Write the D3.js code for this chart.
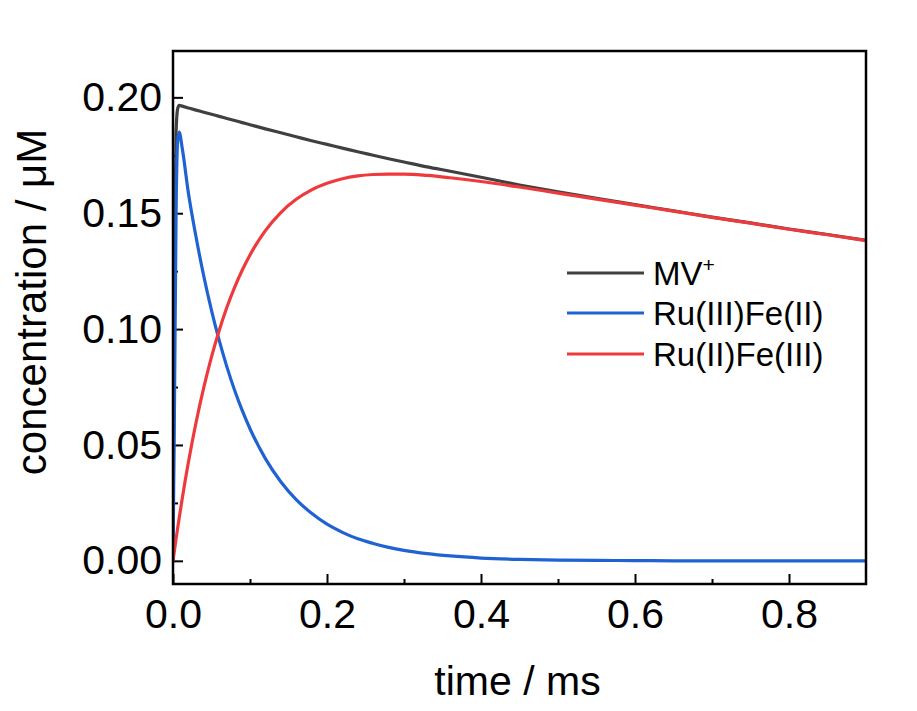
<!DOCTYPE html>
<html>
<head>
<meta charset="utf-8">
<script src="https://cdn.jsdelivr.net/npm/d3@7/dist/d3.min.js"></script>
<style>
  html, body { margin: 0; padding: 0; background: #ffffff; }
  svg { display: block; font-family: Arial, "Liberation Sans", sans-serif; }
</style>
</head>
<body>
<svg id="chart" width="917" height="711"></svg>
<script>
// ---- data ----
const time = [0, 0.002, 0.004, 0.006, 0.008, 0.012, 0.02, 0.03, 0.04, 0.05, 0.06, 0.07, 0.08, 0.09, 0.10,
  0.12, 0.14, 0.16, 0.18, 0.20, 0.22, 0.24, 0.26, 0.28, 0.30, 0.33, 0.36, 0.40, 0.45, 0.50, 0.55,
  0.60, 0.65, 0.70, 0.75, 0.80, 0.85, 0.90];
const mvPlus = [0, 0.130, 0.185, 0.195, 0.1965, 0.1962, 0.1954, 0.1945, 0.1936, 0.1927, 0.1918, 0.1909, 0.1900, 0.1891, 0.1882,
  0.1864, 0.1847, 0.1830, 0.1813, 0.1797, 0.1781, 0.1765, 0.1750, 0.1735, 0.1721, 0.1700, 0.1681, 0.1655, 0.1622, 0.1592, 0.1564,
  0.1537, 0.1510, 0.1483, 0.1458, 0.1432, 0.1408, 0.1383];
const ruIIIfeII = [0, 0.070, 0.150, 0.181, 0.185, 0.178, 0.1587, 0.1396, 0.1228, 0.1081, 0.0951, 0.0837, 0.0736, 0.0648, 0.0570,
  0.0441, 0.0341, 0.0264, 0.0205, 0.0158, 0.0123, 0.0095, 0.0075, 0.0058, 0.0045, 0.0031, 0.0021, 0.0012, 0.0006, 0.0003, 0.0002,
  0.0001, 0, 0, 0, 0, 0, 0];
const ruIIfeIII = [0, 0.0048, 0.0095, 0.0140, 0.0184, 0.0269, 0.0425, 0.0598, 0.0748, 0.0880, 0.0994, 0.1094, 0.1180, 0.1255, 0.1320,
  0.1425, 0.1503, 0.1560, 0.1601, 0.1629, 0.1649, 0.1661, 0.1667, 0.1669, 0.1669, 0.1663, 0.1653, 0.1637, 0.1613, 0.1587, 0.1561,
  0.1535, 0.1509, 0.1482, 0.1457, 0.1431, 0.1407, 0.1382];

const seriesNames = ["MV", "Ru(III)Fe(II)", "Ru(II)Fe(III)"];
const seriesColors = ["#404040", "#1f62d2", "#ee3a3d"];
const seriesValues = [mvPlus, ruIIIfeII, ruIIfeIII];

const xMajorTicks = [0, 0.2, 0.4, 0.6, 0.8];
const xMinorTicks = [0.1, 0.3, 0.5, 0.7];
const yMajorTicks = [0, 0.05, 0.10, 0.15, 0.20];
const yMinorTicks = [0.025, 0.075, 0.125, 0.175];
const xTitle = "time / ms";
const yTitle = "concentration / μM";

// ---- layout ----
const svg = d3.select("#chart");
const L = 173, R = 866, T = 51, B = 584;

const x = d3.scaleLinear().domain([0, 0.9]).range([L, R]);
const y = d3.scaleLinear().domain([-0.01, 0.22]).range([B, T]);

svg.append("rect").attr("width", 917).attr("height", 711).attr("fill", "#ffffff");

svg.append("defs").append("clipPath").attr("id", "clip")
  .append("rect").attr("x", L).attr("y", T).attr("width", R - L).attr("height", B - T);

// axes
const fontSize = 41;
svg.append("g").attr("transform", `translate(0,${B})`)
  .call(d3.axisBottom(x).tickValues(xMajorTicks).tickSize(-10).tickPadding(15)
    .tickFormat(d3.format(".1f")));
svg.append("g").attr("transform", `translate(0,${B})`)
  .call(d3.axisBottom(x).tickValues(xMinorTicks).tickSize(-5).tickFormat(""));
svg.append("g").attr("transform", `translate(${L},0)`)
  .call(d3.axisLeft(y).tickValues(yMajorTicks).tickSize(-10).tickPadding(11)
    .tickFormat(d3.format(".2f")));
svg.append("g").attr("transform", `translate(${L},0)`)
  .call(d3.axisLeft(y).tickValues(yMinorTicks).tickSize(-5).tickFormat(""));

svg.selectAll(".domain").remove();
svg.selectAll(".tick line").attr("stroke", "#000").attr("stroke-width", 2);
svg.selectAll(".tick text").attr("fill", "#000").style("font-size", fontSize + "px")
  .style("font-family", "Arial, 'Liberation Sans', sans-serif");

// lines
const plot = svg.append("g").attr("clip-path", "url(#clip)");
const line = d3.line().x((d, i) => x(time[i])).y(d => y(d)).curve(d3.curveMonotoneX);
seriesValues.forEach((vals, k) => {
  plot.append("path").datum(vals)
    .attr("fill", "none")
    .attr("stroke", seriesColors[k])
    .attr("stroke-width", 3.2)
    .attr("stroke-linejoin", "round")
    .attr("d", line);
});

// frame
svg.append("rect").attr("x", L).attr("y", T).attr("width", R - L).attr("height", B - T)
  .attr("fill", "none").attr("stroke", "#000").attr("stroke-width", 2.5);

// titles
svg.append("text").attr("x", (L + R) / 2 - 2).attr("y", 695)
  .attr("text-anchor", "middle").style("font-size", "41px").attr("fill", "#000").text(xTitle);
svg.append("text").attr("transform", "translate(46,302) rotate(-90)")
  .attr("text-anchor", "middle").style("font-size", "42px").attr("fill", "#000").text(yTitle);

// legend
const legendY = [273, 313, 354];
const lg = svg.append("g");
seriesNames.forEach((name, k) => {
  lg.append("line").attr("x1", 567).attr("x2", 644).attr("y1", legendY[k]).attr("y2", legendY[k])
    .attr("stroke", seriesColors[k]).attr("stroke-width", 3.2);
  const t = lg.append("text").attr("x", 653).attr("y", legendY[k] + 12)
    .style("font-size", "33px").attr("fill", "#000");
  t.append("tspan").text(name);
  if (k === 0) {
    t.append("tspan").attr("dy", -13).style("font-size", "21px").text("+");
  }
});
</script>
</body>
</html>
